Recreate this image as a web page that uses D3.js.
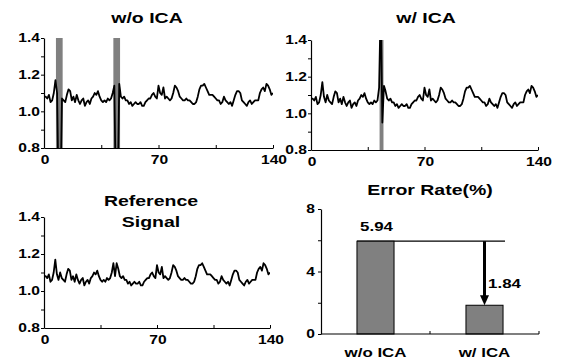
<!DOCTYPE html>
<html>
<head>
<meta charset="utf-8">
<script src="https://cdn.jsdelivr.net/npm/d3@7"></script>
<style>
  body { margin: 0; background: #fff; }
  text { font-family: "Liberation Sans", Arial, sans-serif; font-weight: bold; }
</style>
</head>
<body>
<div id="chart"></div>
<script>
// reference signal, one value per sample (0..140)
const refSignal = [
  1.08, 1.08, 1.07, 1.09, 1.05, 1.06, 1.10, 1.17, 1.09, 1.06,
  1.10, 1.07, 1.06, 1.05, 1.09, 1.12, 1.11, 1.06, 1.08, 1.05,
  1.09, 1.06, 1.04, 1.06, 1.07, 1.03, 1.05, 1.06, 1.04, 1.07,
  1.08, 1.10, 1.09, 1.11, 1.08, 1.06, 1.05, 1.06, 1.05, 1.07,
  1.06, 1.07, 1.10, 1.15, 1.08, 1.15, 1.12, 1.08, 1.07, 1.08,
  1.06, 1.06, 1.04, 1.05, 1.03, 1.04, 1.05, 1.04, 1.04, 1.05,
  1.03, 1.03, 1.05, 1.06, 1.07, 1.07, 1.09, 1.10, 1.08, 1.07,
  1.14, 1.10, 1.09, 1.13, 1.07, 1.08, 1.07, 1.06, 1.07, 1.10,
  1.14, 1.13, 1.11, 1.08, 1.07, 1.06, 1.06, 1.07, 1.06, 1.06,
  1.05, 1.04, 1.04, 1.05, 1.08, 1.12, 1.14, 1.14, 1.15, 1.13,
  1.11, 1.09, 1.09, 1.09, 1.08, 1.07, 1.06, 1.06, 1.04, 1.05,
  1.08, 1.06, 1.05, 1.04, 1.05, 1.03, 1.06, 1.09, 1.11, 1.11,
  1.10, 1.06, 1.05, 1.04, 1.03, 1.05, 1.06, 1.04, 1.05, 1.06,
  1.06, 1.06, 1.10, 1.12, 1.13, 1.11, 1.15, 1.14, 1.12, 1.09,
  1.10
];

// samples corrupted by artifacts (index -> value) in each processed signal
const woIcaArtifacts = [[8, 1.10], [9, 0.5], [10, 0.5], [11, 1.07], [43, 1.14], [44, 0.5], [45, 0.5], [46, 1.15]];
const wIcaArtifacts = [[42, 1.14], [43, 1.6], [44, 0.95], [45, 1.15]];

// gray marked regions [start, end] in sample units
const woIcaBands = [[7.3, 11.4], [42.4, 46.5]];
const wIcaBands = [[42.3, 44.7]];

const xTicks = [0, 70, 140];
const xMinorTicks = [35, 105];
const yTickLabels = [0.8, 1.0, 1.2, 1.4];

const errCategories = ["w/o ICA", "w/ ICA"];
const errValues = [5.94, 1.84];
const errTicks = [0, 4, 8];

const W = 564, H = 360;
const SX = 1.3; // the figure's lettering is stretched sideways
const svg = d3.select("#chart").append("svg")
  .attr("width", W).attr("height", H);

function label(g, x, y, str, size, anchor) {
  return g.append("text")
    .attr("transform", `translate(${x},${y}) scale(${SX},1)`)
    .attr("text-anchor", anchor || "middle")
    .style("font-size", size + "px")
    .text(str);
}

function withArtifacts(base, arts) {
  const s = base.slice();
  arts.forEach(([i, v]) => { s[i] = v; });
  return s;
}

function signalPanel(id, box, title, series, bands) {
  const x = d3.scaleLinear().domain([0, 140]).range([box.left, box.right]);
  const y = d3.scaleLinear().domain([0.8, 1.4]).range([box.bottom, box.top]);
  const g = svg.append("g");

  svg.append("clipPath").attr("id", id)
    .append("rect")
    .attr("x", box.left).attr("y", box.top)
    .attr("width", box.right - box.left).attr("height", box.bottom - box.top);

  const plot = g.append("g").attr("clip-path", `url(#${id})`);
  plot.selectAll("rect.band").data(bands).enter().append("rect")
    .attr("class", "band")
    .attr("x", d => x(d[0]))
    .attr("width", d => x(d[1]) - x(d[0]))
    .attr("y", box.top)
    .attr("height", box.bottom - box.top)
    .attr("fill", "#808080");

  const line = d3.line().x((d, i) => x(i)).y(d => y(d));
  plot.append("path")
    .datum(series)
    .attr("d", line)
    .attr("fill", "none")
    .attr("stroke", "#000")
    .attr("stroke-width", 1.8)
    .attr("stroke-linejoin", "round");

  // y axis
  g.append("g")
    .attr("transform", `translate(${box.left},0)`)
    .call(d3.axisLeft(y).tickValues(d3.range(0.8, 1.41, 0.1)).tickSize(3).tickSizeOuter(0).tickFormat(""))
    .call(a => a.select(".domain").attr("stroke-width", 1.2));
  yTickLabels.forEach(d => label(g, box.left - 4, y(d) + 4.3, d.toFixed(1), 12, "end"));

  // x axis
  g.append("g")
    .attr("transform", `translate(0,${box.bottom})`)
    .call(d3.axisBottom(x).tickValues(xTicks.concat(xMinorTicks)).tickSize(-3).tickSizeOuter(0).tickFormat(""))
    .call(a => a.select(".domain").attr("stroke-width", 1.2));
  xTicks.forEach(d => label(g, x(d) + 1, box.bottom + 16, d, 12));

  title.forEach((s, i) => label(g, box.titleX, box.titleY + i * 21, s, 15));
}

signalPanel("c1", { left: 44, right: 273, top: 38, bottom: 148, titleY: 23, titleX: 147 },
  ["w/o ICA"], withArtifacts(refSignal, woIcaArtifacts), woIcaBands);
signalPanel("c2", { left: 311, right: 538, top: 40, bottom: 150, titleY: 23, titleX: 426 },
  ["w/ ICA"], withArtifacts(refSignal, wIcaArtifacts), wIcaBands);
signalPanel("c3", { left: 44, right: 270, top: 217, bottom: 328, titleY: 206, titleX: 151 },
  ["Reference", "Signal"], refSignal, []);

// error rate panel
(function () {
  const box = { left: 321, right: 539, top: 209, bottom: 334 };
  const x = d3.scaleBand().domain(errCategories).range([box.left, box.right]).paddingInner(0.66).paddingOuter(0.33);
  const y = d3.scaleLinear().domain([0, 8]).range([box.bottom, box.top]);
  const g = svg.append("g");

  label(g, 430, 195, "Error Rate(%)", 15);

  // reference line at first bar level
  const x0 = x(errCategories[0]);
  const x1 = x(errCategories[1]);
  g.append("line")
    .attr("x1", x0).attr("x2", x1 + x.bandwidth() + 2)
    .attr("y1", y(errValues[0])).attr("y2", y(errValues[0]))
    .attr("stroke", "#000").attr("stroke-width", 1.2);

  g.selectAll("rect.bar").data(errValues).enter().append("rect")
    .attr("class", "bar")
    .attr("x", (d, i) => x(errCategories[i]))
    .attr("width", x.bandwidth())
    .attr("y", d => y(d))
    .attr("height", d => y(0) - y(d))
    .attr("fill", "#808080")
    .attr("stroke", "#000")
    .attr("stroke-width", 1);

  // arrow
  const ax = x1 + x.bandwidth() / 2;
  g.append("line")
    .attr("x1", ax).attr("x2", ax)
    .attr("y1", y(errValues[0])).attr("y2", y(errValues[1]) - 9)
    .attr("stroke", "#000").attr("stroke-width", 3);
  g.append("path")
    .attr("d", `M${ax - 4.5},${y(errValues[1]) - 10} L${ax + 4.5},${y(errValues[1]) - 10} L${ax},${y(errValues[1])} Z`)
    .attr("fill", "#000");

  label(g, x0 + x.bandwidth() / 2 + 1, y(errValues[0]) - 10, errValues[0].toFixed(2), 13);
  label(g, ax + 20, 288, errValues[1].toFixed(2), 13);

  g.append("g")
    .attr("transform", `translate(${box.left},0)`)
    .call(d3.axisLeft(y).tickValues([0, 2, 4, 6, 8]).tickSize(3).tickSizeOuter(0).tickFormat(""))
    .call(a => a.select(".domain").attr("stroke-width", 1.2));
  errTicks.forEach(d => label(g, box.left - 6, y(d) + 4.3, d, 12, "end"));

  const xb = g.append("g").attr("transform", `translate(0,${box.bottom})`);
  xb.append("line").attr("x1", box.left).attr("x2", box.right)
    .attr("stroke", "#000").attr("stroke-width", 1.2);
  // ticks at the category boundaries
  const bounds = [box.left + x.step(), box.right];
  xb.selectAll("line.tk").data(bounds).enter().append("line")
    .attr("x1", d => d).attr("x2", d => d).attr("y1", 0).attr("y2", -3)
    .attr("stroke", "#000");
  errCategories.forEach(d => label(xb, x(d) + x.bandwidth() / 2, 23, d, 13));
})();
</script>
</body>
</html>
